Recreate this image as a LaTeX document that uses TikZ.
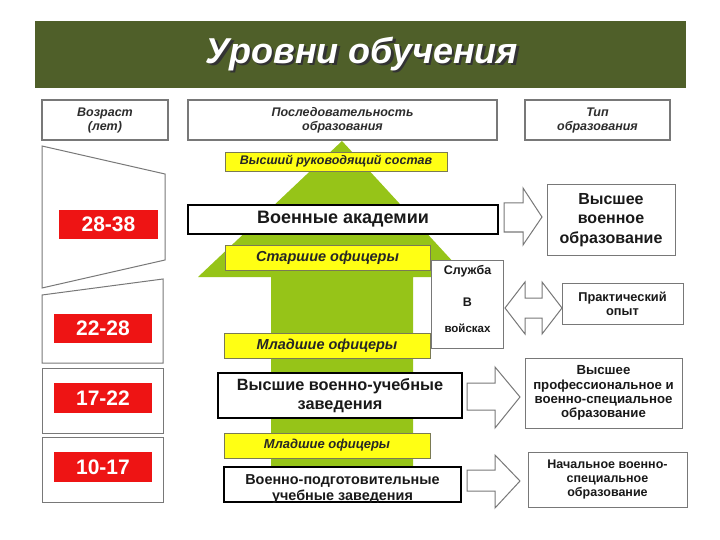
\documentclass[tikz,border=0pt]{standalone}
\usepackage{fontspec}
\setmainfont{Liberation Sans}
\definecolor{bandcol}{RGB}{79,95,41}
\definecolor{arrowgreen}{RGB}{150,196,24}
\definecolor{ylw}{RGB}{255,255,20}
\definecolor{redlab}{RGB}{238,20,20}
\definecolor{framegray}{RGB}{120,120,120}
\definecolor{txtgray}{RGB}{45,45,45}
\newcommand{\titletext}{Уровни обучения}
\tikzset{
  box/.style={draw=framegray, line width=1pt, fill=white, inner sep=0pt, align=center, text=txtgray},
  hdrbox/.style={box, line width=1.1pt, font=\bfseries\itshape\fontsize{12.5}{14}\selectfont},
  redbox/.style={fill=redlab, inner sep=0pt, text=white, font=\bfseries\fontsize{21}{24}\selectfont},
  ylwbox/.style={draw=framegray!70!olive, line width=0.8pt, fill=ylw, inner sep=0pt, text=black!85, font=\bfseries\itshape},
  blackbox/.style={draw=black, line width=1.8pt, fill=white, inner sep=0pt, align=center, text=black!90, font=\bfseries},
  typebox/.style={box, text=black!90, font=\bfseries},
  blockarrow/.style={draw=framegray, line width=1pt, fill=white, line join=miter},
  shapeline/.style={draw=framegray, line width=1pt, fill=white}
}
\begin{document}
\begin{tikzpicture}[x=1pt,y=-1pt]
\useasboundingbox (0,0) rectangle (720,540);
\fill[white] (0,0) rectangle (720,540);

% title band
\node[fill=bandcol, minimum width=651pt, minimum height=67pt, inner sep=0pt] (band) at (360.5,54.5) {};
\node[font=\bfseries\itshape\fontsize{36}{40}\selectfont] (title) at (362,55)
  {\makebox[0pt][l]{\raisebox{-2.5pt}{\hspace{2.5pt}\color{black!80}\titletext}}\color{white}\titletext};

% headers
\node[hdrbox, minimum width=126pt, minimum height=40pt] (h1) at (105,120) {Возраст\\(лет)};
\node[hdrbox, minimum width=309pt, minimum height=40pt] (h2) at (342.5,120) {Последовательность\\образования};
\node[hdrbox, minimum width=145pt, minimum height=40pt] (h3) at (597.5,120) {Тип\\образования};

% left column shapes
\draw[shapeline] (42,146) -- (165,174) -- (165,260) -- (42,288) -- cycle;
\draw[shapeline] (42,295) -- (163,279) -- (163,363) -- (42,363) -- cycle;
\draw[shapeline] (42,368) rectangle (163,433);
\draw[shapeline] (42,437) rectangle (163,502);
\node[redbox, minimum width=99pt, minimum height=29pt] (r1) at (108.5,224.5) {28-38};
\node[redbox, minimum width=98pt, minimum height=29pt] (r2) at (103,328.5) {22-28};
\node[redbox, minimum width=98pt, minimum height=30pt] (r3) at (103,398) {17-22};
\node[redbox, minimum width=98pt, minimum height=30pt] (r4) at (103,467) {10-17};

% big green arrow
\fill[arrowgreen] (342,141) -- (467,277) -- (413,277) -- (413,467) -- (271,467) -- (271,277) -- (198,277) -- cycle;

% yellow labels
\node[ylwbox, minimum width=222pt, minimum height=19pt, font=\bfseries\itshape\fontsize{12.5}{14}\selectfont] (y1) at (336,161.5) {Высший руководящий состав};
\node[ylwbox, minimum width=205pt, minimum height=25pt, font=\bfseries\itshape\fontsize{14.5}{16}\selectfont] (y2) at (327.5,257.5) {Старшие офицеры};
\node[ylwbox, minimum width=206pt, minimum height=25pt, font=\bfseries\itshape\fontsize{14.5}{16}\selectfont] (y3) at (327,345.5) {Младшие офицеры};
\node[ylwbox, minimum width=206pt, minimum height=25pt, font=\bfseries\itshape\fontsize{13}{15}\selectfont] (y4) at (327,445.5) {Младшие офицеры};

% black-framed institutions
\node[blackbox, minimum width=310pt, minimum height=29pt, font=\bfseries\fontsize{18}{20}\selectfont] (b1) at (343,219.5) {Военные академии};
\node[blackbox, minimum width=244pt, minimum height=45pt, font=\bfseries\fontsize{16.3}{18.5}\selectfont] (b2) at (340,395.5) {Высшие военно-учебные\\заведения};
\node[blackbox, minimum width=237pt, minimum height=35pt] (b3) at (342.5,484.5) {};
\node[text=black!90, align=center, font=\bfseries\fontsize{14.4}{16}\selectfont] (b3t) at (342.5,489) {Военно-подготовительные\\учебные заведения};

% service box
\node[box, minimum width=72pt, minimum height=88pt] (svc) at (467.5,304) {};
\node[text=black!90, font=\bfseries\fontsize{12.5}{14}\selectfont] (svc1) at (467.5,271) {Служба};
\node[text=black!90, font=\bfseries\fontsize{12.5}{14}\selectfont] (svc2) at (467.5,302) {В};
\node[text=black!90, font=\bfseries\fontsize{11.5}{13}\selectfont] (svc3) at (467.5,328) {войсках};

% type-of-education boxes
\node[typebox, minimum width=128pt, minimum height=70pt, font=\bfseries\fontsize{16}{19.5}\selectfont] (t1) at (611,220) {Высшее\\военное\\образование};
\node[typebox, minimum width=121pt, minimum height=41pt, font=\bfseries\fontsize{12.8}{14}\selectfont] (t2) at (622.5,303.5) {Практический\\опыт};
\node[typebox, minimum width=157pt, minimum height=70pt, font=\bfseries\fontsize{13.2}{14.2}\selectfont] (t3) at (603.5,393) {Высшее\\профессиональное и\\военно-специальное\\образование};
\node[typebox, minimum width=159pt, minimum height=55pt, font=\bfseries\fontsize{12.5}{14.2}\selectfont] (t4) at (607.5,479.5) {Начальное военно-\\специальное\\образование};

% hollow block arrows
\draw[blockarrow] (504,203) -- (523,203) -- (523,188) -- (542,217) -- (523,245) -- (523,232) -- (504,232) -- cycle;
\draw[blockarrow] (505,308) -- (525,282) -- (525,298) -- (542,298) -- (542,282) -- (562,308) -- (542,334) -- (542,318) -- (525,318) -- (525,334) -- cycle;
\draw[blockarrow] (467,383) -- (495,383) -- (495,367) -- (520,397) -- (495,428) -- (495,410) -- (467,410) -- cycle;
\draw[blockarrow] (467,470) -- (495,470) -- (495,455) -- (520,481) -- (495,508) -- (495,491) -- (467,491) -- cycle;
\end{tikzpicture}
\end{document}
